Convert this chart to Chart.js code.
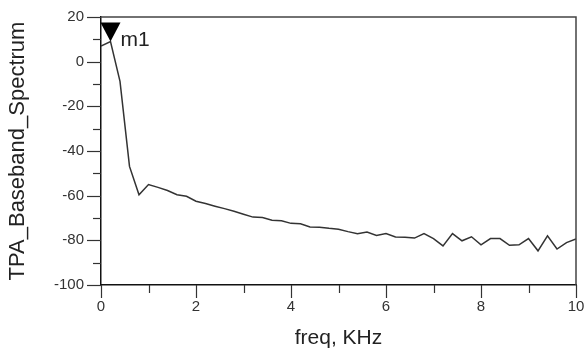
<!DOCTYPE html>
<html>
<head>
<meta charset="utf-8">
<title>TPA_Baseband_Spectrum</title>
<script src="https://cdn.jsdelivr.net/npm/chart.js@4"></script>
<style>
  html, body { margin: 0; padding: 0; background: #fff; }
  #wrap { width: 585px; height: 363px; }
</style>
</head>
<body>
<div id="wrap"><canvas id="spectrumChart" width="585" height="363"></canvas></div>
<script>
/*=========================================================
DATA
=========================================================*/

const freqs = [
  0, 0.2, 0.4, 0.6, 0.8, 1, 1.2, 1.4, 1.6, 1.8,
  2, 2.2, 2.4, 2.6, 2.8, 3, 3.2, 3.4, 3.6, 3.8,
  4, 4.2, 4.4, 4.6, 4.8, 5, 5.2, 5.4, 5.6, 5.8,
  6, 6.2, 6.4, 6.6, 6.8, 7, 7.2, 7.4, 7.6, 7.8,
  8, 8.2, 8.4, 8.6, 8.8, 9, 9.2, 9.4, 9.6, 9.8, 10,
];

const spectrum = [
  7, 9, -8.8, -46.9, -59.6, -55, -56.3, -57.7, -59.6, -60.3,
  -62.5, -63.5, -64.7, -65.8, -67, -68.3, -69.6, -69.8, -71, -71.2,
  -72.4, -72.6, -74, -74.1, -74.6, -75, -76.1, -77, -76.3, -77.8,
  -77, -78.5, -78.6, -79, -77, -79.2, -82.5, -77, -80.2, -78.4,
  -82, -79.2, -79.2, -82.2, -82, -79.2, -84.7, -78, -83.9, -81,
  -79.4,
];

const xTicks = [0, 2, 4, 6, 8, 10];
const yTicks = [20, 0, -20, -40, -60, -80, -100];

const markerName = "m1";
const markerIndex = 1;

/*=========================================================
PLUGIN: ticks, frame, marker
=========================================================*/

const frameAndMarker = {
  id: "frameAndMarker",

  afterDraw(chart) {
    const ctx = chart.ctx;
    const area = chart.chartArea;
    const xs = chart.scales.x;
    const ys = chart.scales.y;

    ctx.save();

    // top + right frame
    ctx.strokeStyle = "#444";
    ctx.lineWidth = 1.5;
    ctx.beginPath();
    ctx.moveTo(area.left, area.top);
    ctx.lineTo(area.right, area.top);
    ctx.lineTo(area.right, area.bottom);
    ctx.stroke();

    // outside ticks, major longer than minor
    ctx.strokeStyle = "#333";
    ctx.lineWidth = 1.2;
    ys.ticks.forEach((t) => {
      const py = Math.round(ys.getPixelForValue(t.value)) + 0.5;
      const len = yTicks.includes(t.value) ? 14 : 8;
      ctx.beginPath();
      ctx.moveTo(area.left - len, py);
      ctx.lineTo(area.left, py);
      ctx.stroke();
    });
    xs.ticks.forEach((t) => {
      const px = Math.round(xs.getPixelForValue(t.value)) + 0.5;
      const len = xTicks.includes(t.value) ? 13 : 8;
      ctx.beginPath();
      ctx.moveTo(px, area.bottom);
      ctx.lineTo(px, area.bottom + len);
      ctx.stroke();
    });

    // marker m1: filled triangle, tip on the point
    const mx = xs.getPixelForValue(freqs[markerIndex]);
    const my = ys.getPixelForValue(spectrum[markerIndex]);
    ctx.fillStyle = "#000";
    ctx.beginPath();
    ctx.moveTo(mx, my);
    ctx.lineTo(mx - 10, my - 19);
    ctx.lineTo(mx + 10, my - 19);
    ctx.closePath();
    ctx.fill();

    ctx.fillStyle = "#222";
    ctx.font = "21px Arial, 'Liberation Sans', sans-serif";
    ctx.textBaseline = "middle";
    ctx.textAlign = "left";
    ctx.fillText(markerName, mx + 10, my - 1);

    ctx.restore();
  },
};

/*=========================================================
CHART
=========================================================*/

const points = freqs.map((f, i) => ({ x: f, y: spectrum[i] }));

new Chart(document.getElementById("spectrumChart"), {
  type: "line",

  data: {
    datasets: [
      {
        data: points,
        borderColor: "#333",
        borderWidth: 1.5,
        pointRadius: 0,
        tension: 0,
        fill: false,
      },
    ],
  },

  options: {
    responsive: false,
    animation: false,
    events: [],

    layout: {
      padding: { left: 0, right: 9, top: 17, bottom: 0 },
    },

    plugins: {
      legend: { display: false },
      tooltip: { enabled: false },
    },

    scales: {
      x: {
        type: "linear",
        min: 0,
        max: 10,
        afterFit(scale) {
          scale.height = 78;
          scale.paddingLeft = 0;
          scale.paddingRight = 0;
        },
        ticks: {
          stepSize: 1,
          autoSkip: false,
          maxRotation: 0,
          padding: 13,
          color: "#333",
          font: { family: "Arial, 'Liberation Sans', sans-serif", size: 15 },
          callback: (v) => (xTicks.includes(v) ? String(v) : ""),
        },
        grid: { drawOnChartArea: false, drawTicks: false },
        border: { display: true, color: "#111", width: 1.5 },
        title: {
          display: true,
          text: "freq, KHz",
          color: "#222",
          padding: { top: 0, bottom: 12 },
          font: { family: "Arial, 'Liberation Sans', sans-serif", size: 21 },
        },
      },

      y: {
        min: -100,
        max: 20,
        afterFit(scale) {
          scale.width = 101;
          scale.paddingTop = 0;
          scale.paddingBottom = 0;
        },
        ticks: {
          stepSize: 10,
          autoSkip: false,
          padding: 17,
          color: "#333",
          font: { family: "Arial, 'Liberation Sans', sans-serif", size: 15 },
          callback: (v) => (yTicks.includes(v) ? String(v) : ""),
        },
        grid: { drawOnChartArea: false, drawTicks: false },
        border: { display: true, color: "#111", width: 1.5 },
        title: {
          display: true,
          text: "TPA_Baseband_Spectrum",
          color: "#222",
          padding: { top: 5, bottom: 0 },
          font: { family: "Arial, 'Liberation Sans', sans-serif", size: 22 },
        },
      },
    },
  },

  plugins: [frameAndMarker],
});
</script>
</body>
</html>
